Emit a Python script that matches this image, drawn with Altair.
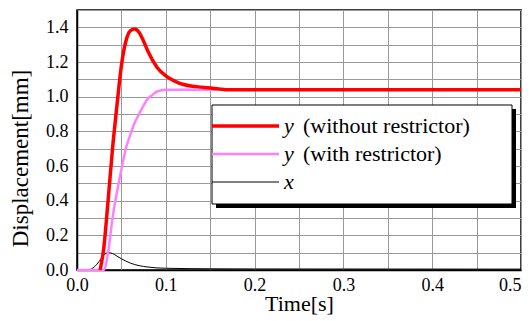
import altair as alt
import pandas as pd

# Data
t_red = [0.026, 0.03, 0.035, 0.04, 0.045, 0.05, 0.055, 0.06, 0.065, 0.07, 0.075, 0.08,
         0.09, 0.1, 0.11, 0.12, 0.13, 0.14, 0.15, 0.16, 0.17, 0.5]
v_red = [0.0, 0.12, 0.4, 0.7, 0.95, 1.18, 1.32, 1.38, 1.39, 1.37, 1.32, 1.26,
         1.17, 1.12, 1.09, 1.07, 1.06, 1.055, 1.05, 1.045, 1.04, 1.04]

t_pink = [0.0, 0.03, 0.035, 0.04, 0.045, 0.05, 0.055, 0.06, 0.065, 0.07, 0.075, 0.08,
          0.085, 0.09, 0.1, 0.5]
v_pink = [0.0, 0.0, 0.1, 0.3, 0.45, 0.58, 0.7, 0.78, 0.85, 0.9, 0.95, 0.99,
          1.01, 1.03, 1.04, 1.04]

t_x = [0.0, 0.012, 0.02, 0.025, 0.03, 0.035, 0.04, 0.045, 0.05, 0.06, 0.07, 0.08,
       0.09, 0.1, 0.15, 0.2, 0.5]
v_x = [0.0, 0.0, 0.02, 0.05, 0.085, 0.1, 0.095, 0.08, 0.065, 0.04, 0.025, 0.017,
       0.012, 0.01, 0.007, 0.006, 0.005]

series_names = ["y (without restrictor)", "y (with restrictor)", "x"]
legend_symbol = ["y", "y", "x"]
legend_rest = ["(without restrictor)", "(with restrictor)", ""]
colors = ["#ff0000", "#ff80ff", "#000000"]
widths = [3.5, 2.5, 1.0]

x_ticks = [0.0, 0.05, 0.1, 0.15, 0.2, 0.25, 0.3, 0.35, 0.4, 0.45, 0.5]
y_ticks = [0.0, 0.1, 0.2, 0.3, 0.4, 0.5, 0.6, 0.7, 0.8, 0.9, 1.0, 1.1, 1.2, 1.3, 1.4, 1.5]

FONT = "Liberation Serif"

frames = []
for name, ts, vs in [(series_names[0], t_red, v_red),
                     (series_names[1], t_pink, v_pink),
                     (series_names[2], t_x, v_x)]:
    frames.append(pd.DataFrame({"series": name, "t": ts, "v": vs}))
df = pd.concat(frames, ignore_index=True)

xscale = alt.Scale(domain=[0, 0.5], nice=False)
yscale = alt.Scale(domain=[0, 1.5], nice=False)

xaxis = alt.Axis(values=x_ticks, title="Time[s]", ticks=False, labelFlush=False,
                 labelFont=FONT, titleFont=FONT, labelFontSize=18, titleFontSize=22,
                 labelAlign={"condition": {"test": "datum.value >= 0.49", "value": "right"}, "value": "center"},
                 labelExpr="abs(round(datum.value*10)-datum.value*10)<0.001 ? format(datum.value,'.1f') : ''",
                 labelPadding=6, titleY=33, titleBaseline="middle")
yaxis = alt.Axis(values=y_ticks, title="Displacement[mm]", ticks=False, labelFlush=False,
                 labelFont=FONT, titleFont=FONT, labelFontSize=18, titleFontSize=23,
                 labelExpr="abs(round(datum.value*5)-datum.value*5)<0.001 ? format(datum.value,'.1f') : ''",
                 labelPadding=9, titleX=-57, titleY=148, titleBaseline="middle")

layers = []
# draw order: x (black), pink, red
for i in [2, 1, 0]:
    name = series_names[i]
    layers.append(
        alt.Chart(df[df.series == name]).mark_line(
            color=colors[i], strokeWidth=widths[i], interpolate="monotone"
        ).encode(
            x=alt.X("t:Q", scale=xscale, axis=xaxis),
            y=alt.Y("v:Q", scale=yscale, axis=yaxis),
        )
    )

dummy = pd.DataFrame({"a": [0]})
# legend box with shadow
box_x0, box_x1, box_y0, box_y1 = 135, 435, 95, 194
layers.append(alt.Chart(dummy).mark_rect(color="black").encode(
    x=alt.value(box_x0 + 4), x2=alt.value(box_x1 + 4),
    y=alt.value(box_y0 + 4), y2=alt.value(box_y1 + 4)))
layers.append(alt.Chart(dummy).mark_rect(fill="white", stroke="black", strokeWidth=1).encode(
    x=alt.value(box_x0), x2=alt.value(box_x1),
    y=alt.value(box_y0), y2=alt.value(box_y1)))

row_y = [116, 144, 172]
for i in range(3):
    layers.append(alt.Chart(dummy).mark_rule(color=colors[i], strokeWidth=widths[i]).encode(
        x=alt.value(box_x0), x2=alt.value(202), y=alt.value(row_y[i])))
    layers.append(alt.Chart(pd.DataFrame({"s": [legend_symbol[i]]})).mark_text(
        font=FONT, fontSize=22, fontStyle="italic", align="left", baseline="middle", color="black"
    ).encode(x=alt.value(207), y=alt.value(row_y[i]), text="s:N"))
    if legend_rest[i]:
        layers.append(alt.Chart(pd.DataFrame({"s": [legend_rest[i]]})).mark_text(
            font=FONT, fontSize=22, align="left", baseline="middle", color="black"
        ).encode(x=alt.value(226), y=alt.value(row_y[i]), text="s:N"))

chart = alt.layer(*layers).properties(
    width=444, height=260,
    autosize=alt.AutoSizeParams(type="none"),
    padding={"left": 69, "top": 2, "right": 2, "bottom": 51},
).configure_view(
    stroke="black", strokeWidth=1.5
).configure_axis(
    labelColor="black", titleFontWeight="normal", titleColor="black",
    gridColor="#999999", gridWidth=1, gridOpacity=1,
    domainColor="black", domainWidth=1.5,
)

chart.save("out.html", embed_options={"renderer": "svg", "actions": False})
